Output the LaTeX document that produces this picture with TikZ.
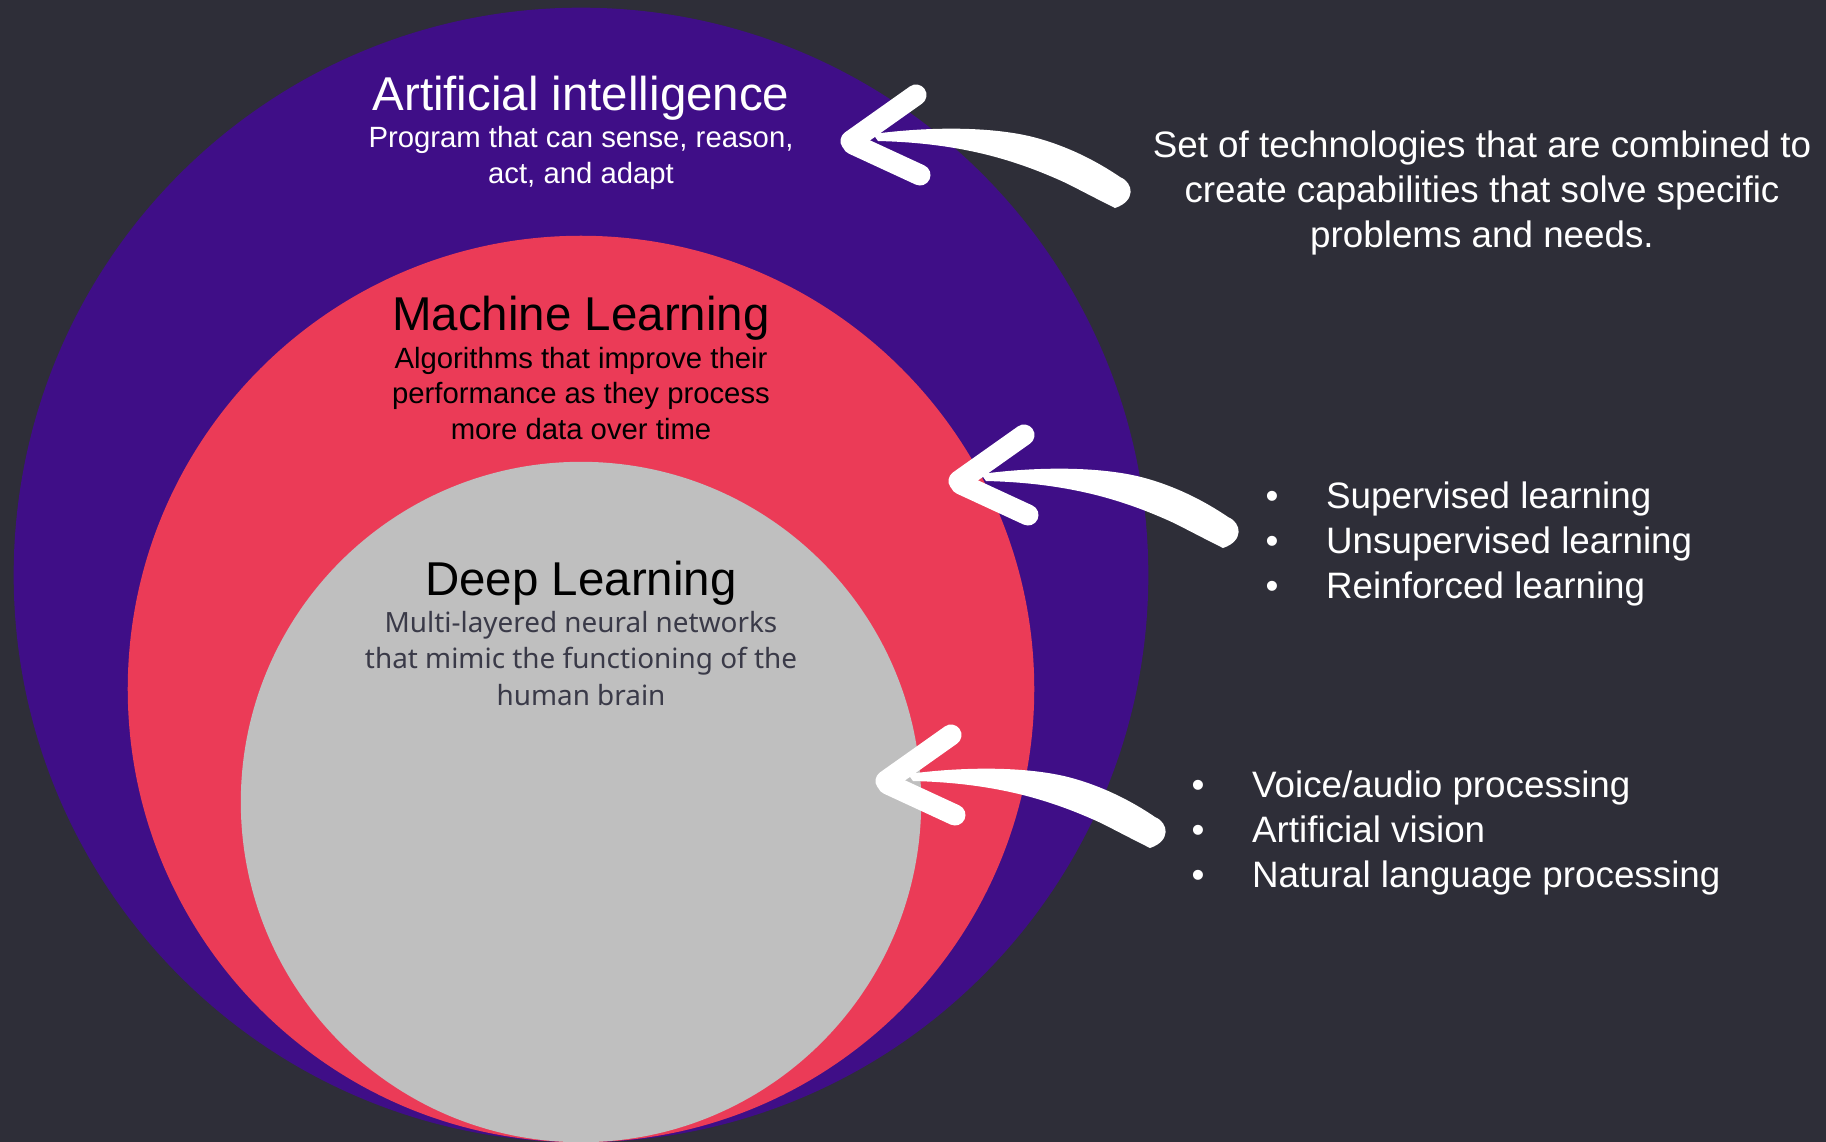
\documentclass[tikz,border=0pt]{standalone}
\usepackage{fontspec}
\setmainfont{Liberation Sans}
\newfontfamily\dlfont{Noto Sans}

\definecolor{bgdark}{RGB}{46,46,56}
\definecolor{aipurple}{RGB}{63,14,135}
\definecolor{mlred}{RGB}{235,59,87}
\definecolor{dlgray}{RGB}{191,191,191}
\definecolor{dltext}{RGB}{58,58,72}

\tikzset{
	titletext/.style={anchor=base, inner sep=0pt, font=\fontsize{13.5pt}{16pt}\selectfont},
	subtext/.style={anchor=base, align=center, inner sep=0pt, font=\fontsize{8.33pt}{10pt}\selectfont},
	notetext/.style={anchor=base, inner sep=0pt, text=white, font=\fontsize{10.46pt}{12.7pt}\selectfont},
	barb/.style={white, line width=0.21cm, line cap=round}
}
\newcommand{\itm}[1]{\makebox[17.2pt][l]{\textbullet}#1}
\def\handarrow(#1){
	\begin{scope}[shift={(#1)}]
		\fill[white] (30,-11) .. controls (90,-19) and (150,-18) .. (190,-8) .. controls (225,1) and (255,17) .. (277,32)
			.. controls (291,38) and (293,56) .. (272,63) .. controls (250,52) and (235,44) .. (223,38)
			.. controls (175,16) and (120,-2) .. (35,-4) -- cycle;
		\draw[barb] (8,-4) -- (73,-50);
		\draw[barb] (10,-1) -- (77,30);
	\end{scope}}

\begin{document}
\begin{tikzpicture}[x=0.01cm, y=-0.01cm]
		%%%%% START %%%%%
		
		\useasboundingbox (0,0) rectangle (1826,1142);
		\fill[bgdark] (0,0) rectangle (1826,1142);
		
		\fill[aipurple] (581,575) circle[radius=5.67cm];
		\fill[mlred] (581,689) circle[radius=4.53cm];
		\fill[dlgray] (581,802) circle[radius=3.40cm];
		
		% multi-line nodes sit on their last baseline
		\node[titletext, text=white] (aiTitle) at (581,110) {Artificial intelligence};
		\node[subtext, text=white] (aiSub) at (581,183) {Program that can sense, reason,\\act, and adapt};
		
		\node[titletext, text=black] (mlTitle) at (581,330) {Machine Learning};
		\node[subtext, text=black] (mlSub) at (581,439) {Algorithms that improve their\\performance as they process\\more data over time};
		
		\node[titletext, text=black] (dlTitle) at (581,595) {Deep Learning};
		\node[subtext, text=dltext, font=\dlfont\fontsize{7.93pt}{10.24pt}\selectfont] (dlSub) at (581,705) {Multi-layered neural networks\\that mimic the functioning of the\\human brain};
		
		\node[notetext, align=center] (aiNote) at (1482,247) {Set of technologies that are combined to\\create capabilities that solve specific\\problems and needs.};
		\node[notetext, anchor=base west, align=left] (mlList) at (1265,598) {\itm{Supervised learning}\\\itm{Unsupervised learning}\\\itm{Reinforced learning}};
		\node[notetext, anchor=base west, align=left] (dlList) at (1191,887) {\itm{Voice/audio processing}\\\itm{Artificial vision}\\\itm{Natural language processing}};
		
		\coordinate (aiTip) at (843,145);
		\coordinate (mlTip) at (951,485);
		\coordinate (dlTip) at (878,785);
		\handarrow(aiTip)
		\handarrow(mlTip)
		\handarrow(dlTip)
		
		%%%%% END %%%%%
\end{tikzpicture}
\end{document}
